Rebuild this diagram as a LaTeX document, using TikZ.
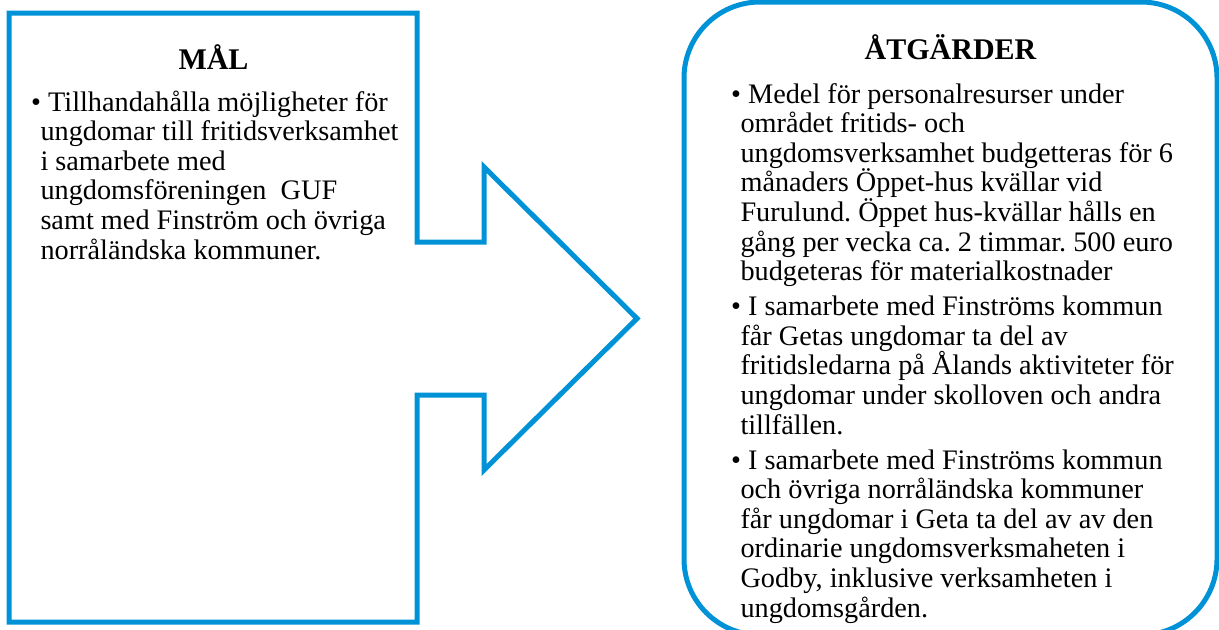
\documentclass[tikz,border=0pt]{standalone}
\usepackage{fontspec}
\setmainfont{Liberation Serif}
\definecolor{ramblue}{RGB}{0,146,214}
\newcommand\punkt{\hspace*{-7pt}\textbullet\ }
\frenchspacing
\begin{document}
\begin{tikzpicture}[x=.75pt, y=-.75pt, line width=3.75pt,
		rubrik/.style={font=\fontsize{22.5}{27}\selectfont\bfseries, anchor=base, inner sep=0pt},
		brodtext/.style={font=\fontsize{21.2}{22.2}\selectfont, align=left, anchor=base west, inner sep=0pt}]
			\def\xa{9} \def\xb{417} \def\xc{484} \def\xd{637}
			\useasboundingbox (0,0) rectangle (1219,629);
			% box with arrow
			\draw[ramblue] (\xa,13) -- (\xb,13) -- (\xb,242) -- (\xc,242) -- (\xc,167) -- (\xd,318.5)
			-- (\xc,470) -- (\xc,395) -- (\xb,395) -- (\xb,622) -- (\xa,622) -- cycle;
			\begin{scope}
				\clip (0,0) rectangle (1219,629);
				\draw[ramblue, rounded corners=57pt] (684,2) rectangle (1217,635);
			\end{scope}
			% base = last line
			\node[rubrik] (mal) at (213.5,69) {MÅL};
			\node[brodtext] (maltext) at (38,259) {\punkt Tillhandahålla möjligheter för\\
				ungdomar till fritidsverksamhet\\ i samarbete med\\ ungdomsföreningen\ \ GUF\\
				samt med Finström och övriga\\ norråländska kommuner.};
			\node[rubrik] (atg) at (950.5,59) {ÅTGÄRDER};
			\node[brodtext] (atgtext) at (738,617) {\punkt Medel för personalresurser under\\
				området fritids- och\\ ungdomsverksamhet budgetteras för 6\\
				månaders Öppet-hus kvällar vid\\ Furulund. Öppet hus-kvällar hålls en\\
				gång per vecka ca. 2 timmar. 500 euro\\ budgeteras för materialkostnader\\[4pt]
				\punkt I samarbete med Finströms kommun\\ får Getas ungdomar ta del av\\
				fritidsledarna på Ålands aktiviteter för\\ ungdomar under skolloven och andra\\
				tillfällen.\\[4pt]
				\punkt I samarbete med Finströms kommun\\ och övriga norråländska kommuner\\
				får ungdomar i Geta ta del av av den\\ ordinarie ungdomsverksmaheten i\\
				Godby, inklusive verksamheten i\\ ungdomsgården.};
		\end{tikzpicture}
\end{document}
